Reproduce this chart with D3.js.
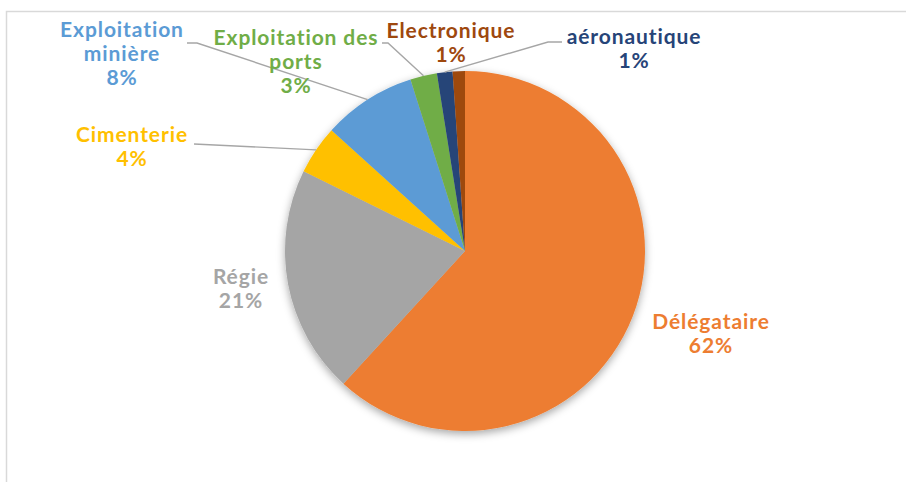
<!doctype html>
<html>
<head>
  <meta charset="utf-8">
  <title>Répartition</title>
  <style>
  html, body { margin: 0; padding: 0; background: #fff; }
  #vis { width: 906px; height: 482px; }
  </style>
</head>
<body>
  <div id="vis"></div>
  <script src="https://d3js.org/d3.v7.min.js"></script>
  <script>
  var width = 906;
  var height = 482;

  // slices, clockwise from 12 o'clock
  var categories = ['Délégataire', 'Régie', 'Cimenterie', 'Exploitation minière',
    'Exploitation des ports', 'aéronautique', 'Electronique'];
  var shares = [61.8, 20.5, 4.4, 8.4, 2.4, 1.4, 1.1];
  var shareLabels = ['62%', '21%', '4%', '8%', '3%', '1%', '1%'];
  var colors = ['#ed7d31', '#a5a5a5', '#ffc000', '#5b9bd5', '#70ad47', '#264478', '#9e480e'];

  // label text lines and placement (layout only)
  var labelLines = [
    ['Délégataire'], ['Régie'], ['Cimenterie'], ['Exploitation', 'minière'],
    ['Exploitation des', 'ports'], ['aéronautique'], ['Electronique']
  ];
  var labelPos = [
    { x: 711, y: 329 }, { x: 241, y: 284 }, { x: 132, y: 142 }, { x: 122, y: 37 },
    { x: 296, y: 45 }, { x: 634, y: 44 }, { x: 451, y: 38 }
  ];
  // leader line start (near label) and elbow, null = no leader
  var leaders = [
    null, null,
    [[194, 144]],
    [[187, 43], [197, 43]],
    [[382, 43], [388, 43]],
    [[562, 42], [548, 42]],
    null
  ];

  var center = { x: 465, y: 251 };
  var radius = 180;
  var lineStep = 24;

  var svg = d3.select('#vis').append('svg')
    .attr('width', width)
    .attr('height', height);

  var defs = svg.append('defs');
  var filter = defs.append('filter').attr('id', 'shadow')
    .attr('x', '-20%').attr('y', '-20%').attr('width', '140%').attr('height', '140%');
  filter.append('feDropShadow')
    .attr('dx', 0).attr('dy', 3)
    .attr('stdDeviation', 4)
    .attr('flood-color', '#000')
    .attr('flood-opacity', 0.35);

  // frame
  svg.append('path')
    .attr('d', 'M6.5,' + height + 'V11.5H' + width)
    .attr('fill', 'none')
    .attr('stroke', '#d9d9d9')
    .attr('stroke-width', 1.5);

  var data = categories.map(function(c, i){
    return { name: c, value: shares[i], label: shareLabels[i], color: colors[i], i: i };
  });

  var pie = d3.pie().sort(null).value(function(d){ return d.value; });
  var arc = d3.arc().innerRadius(0).outerRadius(radius);
  var arcs = pie(data);

  var g = svg.append('g')
    .attr('transform', 'translate(' + center.x + ',' + center.y + ')');

  g.append('g').attr('filter', 'url(#shadow)')
    .selectAll('path').data(arcs)
    .enter().append('path')
      .attr('d', arc)
      .attr('fill', function(d){ return d.data.color; });

  // leader lines to the middle of each slice's rim
  arcs.forEach(function(a, i){
    if(!leaders[i]) return;
    var mid = (a.startAngle + a.endAngle) / 2;
    var end = [center.x + radius * Math.sin(mid), center.y - radius * Math.cos(mid)];
    var pts = leaders[i].concat([end]);
    svg.append('path')
      .attr('d', d3.line()(pts))
      .attr('fill', 'none')
      .attr('stroke', '#a6a6a6')
      .attr('stroke-width', 1.4);
  });

  var labels = svg.selectAll('text.lbl').data(data)
    .enter().append('text')
      .attr('class', 'lbl')
      .attr('text-anchor', 'middle')
      .attr('font-family', 'Lato, sans-serif')
      .attr('font-weight', 'bold')
      .attr('font-size', 21)
      .attr('letter-spacing', 0.9)
      .attr('fill', function(d){ return d.color; })
      .attr('x', function(d){ return labelPos[d.i].x; })
      .attr('y', function(d){ return labelPos[d.i].y; });

  labels.each(function(d){
    var t = d3.select(this);
    var lines = labelLines[d.i].concat([d.label]);
    lines.forEach(function(l, k){
      t.append('tspan')
        .attr('x', labelPos[d.i].x)
        .attr('dy', k === 0 ? 0 : lineStep)
        .text(l);
    });
  });
  </script>
</body>
</html>
